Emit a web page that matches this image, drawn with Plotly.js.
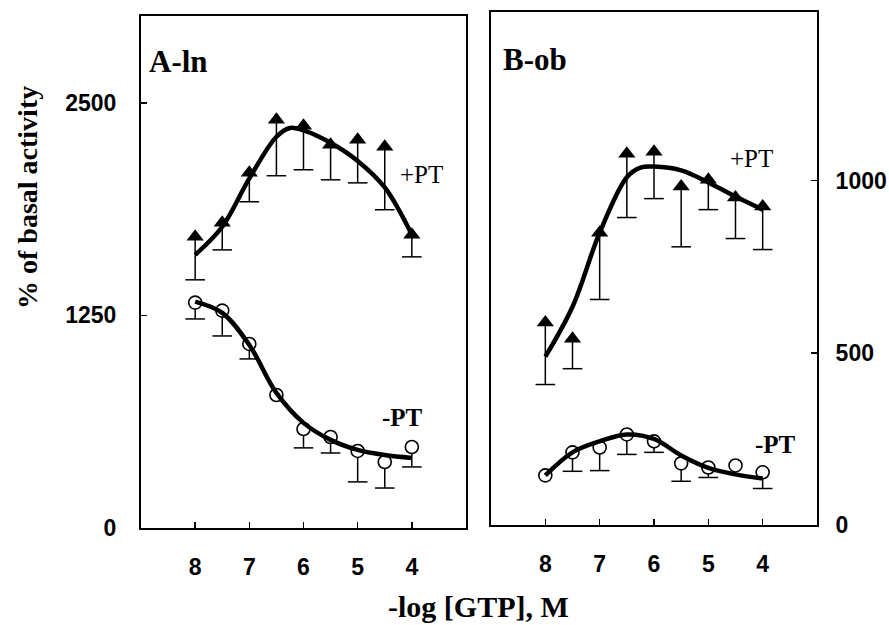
<!DOCTYPE html>
<html>
<head>
<meta charset="utf-8">
<script src="https://cdn.plot.ly/plotly-3.0.1.min.js"></script>
<style>html,body{margin:0;padding:0;background:#fff;}#chart{width:889px;height:625px;}</style>
</head>
<body>
<div id="chart"></div>
<script>
// -log [GTP] concentrations
const logGTP = [8, 7.5, 7, 6.5, 6, 5.5, 5, 4.5, 4];
const tickVals = [8, 7, 6, 5, 4];
const tickText = ["8", "7", "6", "5", "4"];

// Panel A-ln (% of basal activity)
const aPlusPT      = [1712, 1794, 2088, 2400, 2365, 2253, 2282, 2241, 1724];
const aPlusPTLow   = [1459, 1635, 1918, 2071, 2106, 2047, 2029, 1871, 1594];
const aMinusPT     = [1325, 1278, 1082, 782, 582, 535, 453, 388, 476];
const aMinusPTLow  = [1229, 1129, 994, null, 471, 441, 271, 235, 359];
const aPlusFitX    = [8, 7.5, 7, 6.5, 6.25, 6, 5.5, 5, 4.5, 4];
const aPlusFitY    = [1606, 1771, 2055, 2300, 2352, 2338, 2265, 2158, 2002, 1724];
const aMinusFitX   = [8, 7.5, 7, 6.5, 6, 5.5, 5, 4.5, 4];
const aMinusFitY   = [1331, 1265, 1076, 794, 618, 518, 459, 429, 412];
const aTicks = [0, 1250, 2500];

// Panel B-ob (% of basal activity)
const bPlusPT      = [588, 541, 849, 1078, 1084, 983, 1003, 951, 925];
const bPlusPTLow   = [408, 454, 655, 893, 948, 808, 916, 832, 800];
const bMinusPT     = [144, 211, 225, 263, 243, 179, 167, 173, 153];
const bMinusPTLow  = [null, 156, 158, 205, 211, 127, 138, null, 106];
const bPlusFitX    = [8, 7.5, 7, 6.5, 6.25, 6, 5.5, 5, 4.5, 4];
const bPlusFitY    = [489, 634, 849, 1010, 1038, 1041, 1030, 995, 954, 916];
const bMinusFitX   = [8, 7.5, 7, 6.5, 6, 5.5, 5, 4.5, 4];
const bMinusFitY   = [144, 211, 243, 263, 250, 202, 166, 147, 135];
const bTicks = [0, 500, 1000];

function stems(xs, ys, lows) {
  const sx = [], sy = [];
  xs.forEach((x, i) => { if (lows[i] !== null) { sx.push(x, x, null); sy.push(ys[i], lows[i], null); } });
  return {sx, sy};
}
function caps(xs, lows) {
  const cx = [], cy = [];
  xs.forEach((x, i) => { if (lows[i] !== null) { cx.push(x); cy.push(lows[i]); } });
  return {cx, cy};
}

const traces = [];
function addSeries(xa, ya, ys, lows, symbol, fitX, fitY) {
  const s = stems(logGTP, ys, lows);
  traces.push({x: s.sx, y: s.sy, xaxis: xa, yaxis: ya, mode: 'lines', line: {color: '#000', width: 1.5}, hoverinfo: 'skip', showlegend: false});
  const c = caps(logGTP, lows);
  traces.push({x: c.cx, y: c.cy, xaxis: xa, yaxis: ya, mode: 'markers', marker: {symbol: 'line-ew', size: 14, line: {color: '#000', width: 1.5}}, hoverinfo: 'skip', showlegend: false});
  const mk = symbol === 'triangle-up'
    ? {symbol: 'triangle-up', size: 15, color: '#000', line: {width: 0}}
    : {symbol: 'circle', size: 13, color: '#fff', line: {color: '#000', width: 1.6}};
  traces.push({x: logGTP, y: ys, xaxis: xa, yaxis: ya, mode: 'markers', marker: mk, showlegend: false});
  traces.push({x: fitX, y: fitY, xaxis: xa, yaxis: ya, mode: 'lines', line: {color: '#000', width: 4.5, shape: 'spline', smoothing: 1}, hoverinfo: 'skip', showlegend: false});
}
addSeries('x', 'y', aPlusPT, aPlusPTLow, 'triangle-up', aPlusFitX, aPlusFitY);
addSeries('x', 'y', aMinusPT, aMinusPTLow, 'circle', aMinusFitX, aMinusFitY);
addSeries('x2', 'y2', bPlusPT, bPlusPTLow, 'triangle-up', bPlusFitX, bPlusFitY);
addSeries('x2', 'y2', bMinusPT, bMinusPTLow, 'circle', bMinusFitX, bMinusFitY);

const tickFont = {family: 'Liberation Sans, Arial, sans-serif', size: 23, color: '#000', weight: 'bold'};
const xCommon = {range: [9, 3], tickvals: tickVals, ticktext: tickText, ticks: 'inside', ticklen: 6, tickwidth: 1.5, tickcolor: '#000',
  showline: true, linewidth: 2, linecolor: '#000', mirror: true, showgrid: false, zeroline: false,
  tickfont: tickFont, ticklabelstandoff: 17, fixedrange: true};
const yCommon = {ticks: 'inside', ticklen: 6, tickwidth: 1.5, tickcolor: '#000', showline: true, linewidth: 2, linecolor: '#000',
  mirror: true, showgrid: false, zeroline: false, tickfont: tickFont, fixedrange: true};

const serif = 'Liberation Serif, Times New Roman, serif';
function note(text, px, py, size, bold, angle) {
  const f = {family: serif, size: size, color: '#000'};
  if (bold) f.weight = 'bold';
  return {text: text, xref: 'paper', yref: 'paper', x: px / 889, y: 1 - py / 625, xanchor: 'center', yanchor: 'middle',
          showarrow: false, textangle: angle || 0, font: f};
}
const layout = {
  width: 889, height: 625,
  margin: {l: 0, r: 0, t: 0, b: 0},
  paper_bgcolor: '#fff', plot_bgcolor: '#fff',
  showlegend: false,
  xaxis: Object.assign({}, xCommon, {domain: [141/889, 466/889], anchor: 'y'}),
  yaxis: Object.assign({}, yCommon, {domain: [1 - 528/625, 1 - 16/625], range: [0, 3010], tickvals: aTicks, anchor: 'x', ticklabelstandoff: 18}),
  xaxis2: Object.assign({}, xCommon, {domain: [491/889, 817/889], anchor: 'y2'}),
  yaxis2: Object.assign({}, yCommon, {domain: [1 - 525/625, 1 - 12/625], range: [0, 1490], tickvals: bTicks, anchor: 'x2', side: 'right', ticklabelstandoff: 12}),
  annotations: [
    note('% of basal activity', 28, 198, 28, true, -90),
    note('-log [GTP], M', 478, 606, 30, true),
    note('A-ln', 178, 62, 31, true),
    note('B-ob', 535, 60, 31, true),
    note('+PT', 421, 174, 25, false),
    note('-PT', 402, 418, 25, true),
    note('+PT', 751, 159, 25, false),
    note('-PT', 775, 444, 25, true)
  ]
};

Plotly.newPlot('chart', traces, layout, {staticPlot: true, displayModeBar: false});
</script>
</body>
</html>
